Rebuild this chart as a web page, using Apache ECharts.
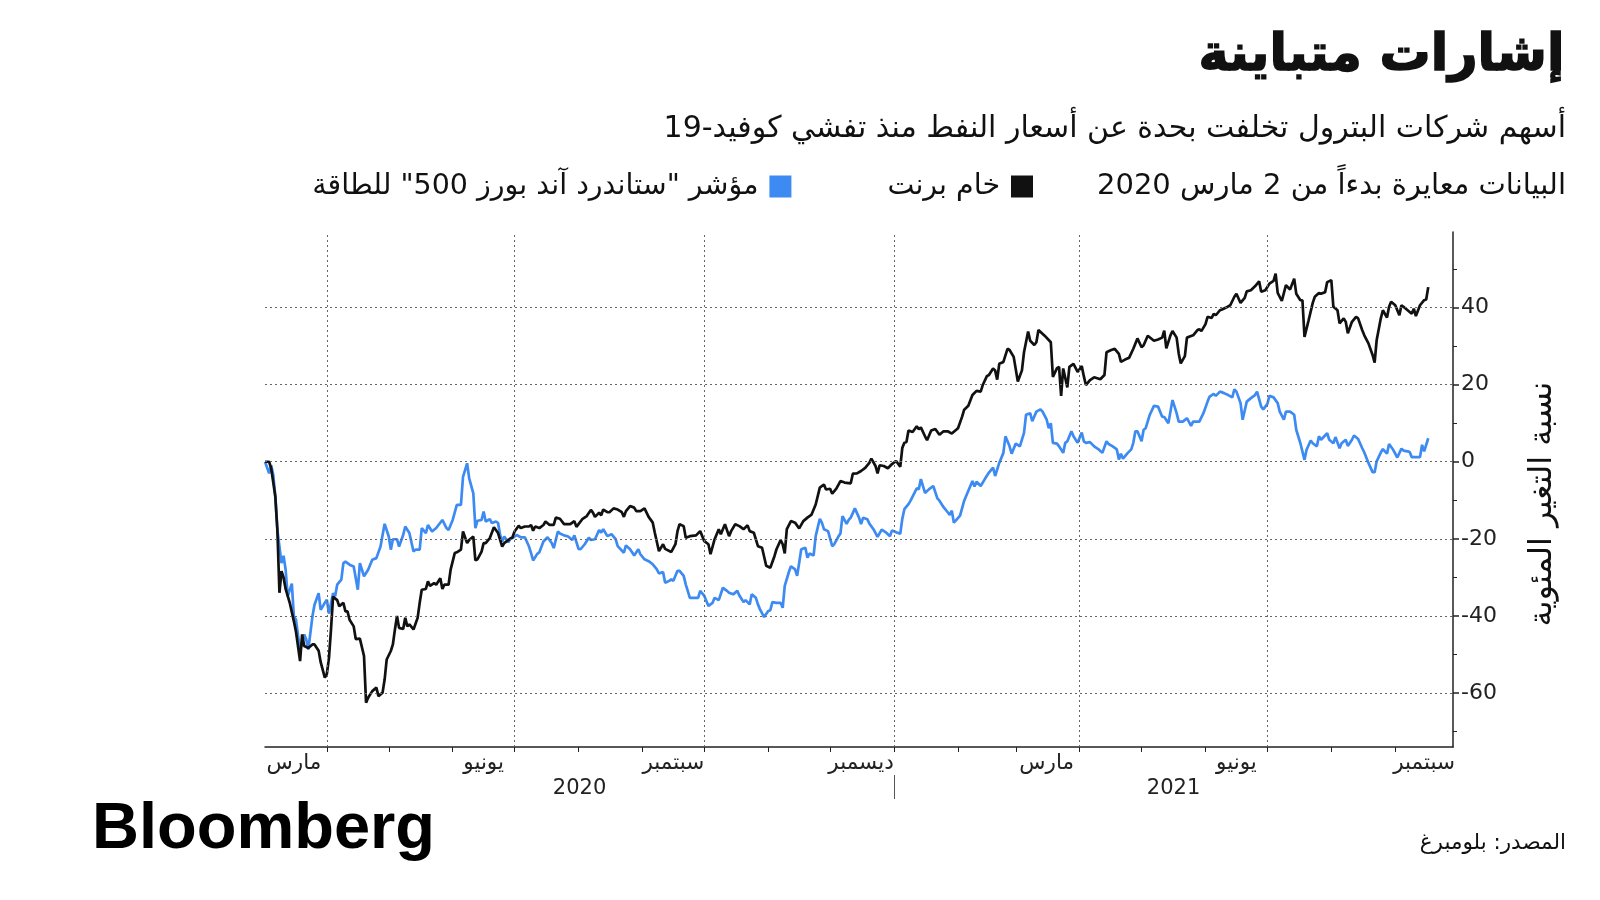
<!DOCTYPE html>
<html>
<head>
<meta charset="utf-8">
<script src="https://cdn.jsdelivr.net/npm/echarts@6/dist/echarts.min.js"></script>
<style>
html,body{margin:0;padding:0;background:#fff;}
#chart{width:1600px;height:900px;}
</style>
</head>
<body>
<div id="chart"></div>
<script>
// ---------- DATA ----------
const startDate = '2020-03-02';           // rebasing date (day 0)
const axisStart = '2020-03-02';
const axisEnd = '2021-09-29';

const brentName = 'خام برنت';
const energyName = 'مؤشر "ستاندرد آند بورز 500" للطاقة';

// Brent crude: days since 2 March 2020, % change
const brentDays = [
  0,2,3,5,6,7,8,9,10,12, 14,15,17,18,19,21,23,24,26,27, 29,30,31,32,33,35,36,38,39,40,
  41,43,44,46,48,49,50,52,54,55, 57,58,59,61,62,63,64,65,67,68, 69,70,72,74,75,76,78,79,80,82,
  83,85,86,87,89,90,92,93,95,96, 98,99,101,102,103,105,106,107,109,111, 113,115,116,118,120,121,123,124,126,128,
  129,130,131,133,135,136,138,140,141,
  143,145,148,150,151,154,156,158,159,160, 162,163,164,166,167,169,171,173,174,175, 177,179,180,182,184,186,188,189,191,193,
  194,197,199,200,201,203,204,206,209,211, 213,215,216,218,220,221,223,225,226,228, 230,232,234,235,237,239,241,243,245,247,
  248,250,251,252,253,255,257,259,261,263, 265,267,269,271,272,274,275,277,279,281, 284,285,287,289,291,293,294,296,
  297,298,300,302,304,306,308,309,310,311, 312,314,316,317,318,320,321,323,325,327, 329,331,333,336,338,339,341,343,345,347,
  348,350,351,353,354,355,356,358,360,361, 363,365,367,368,370,371,373,374,375,378, 381,382,384,385,386,387,389,390,392,394,
  396,397,398,400,402,405,407,408,410,412, 414,415,417,419,421,423,425,426,428,
  431,433,435,436,437,439,440,442,443,444, 446,447,449,450,452,453,454,456,457,459, 460,461,463,464,466,468,470,471,473,475,
  476,478,480,482,483,485,487,489,490,491, 493,495,497,499,500,502,503,504,506,508, 509,511,512,514,515,517,518,520,521,523,
  524,525,527,529,530,532,533,535,537,538, 539,541,542,544,545,546,548,550,551,552, 554,556,557,558,560,562,563,564
];
const brentValues = [
  0,0,-1.7,-9,-17.7,-34,-28.4,-30,-33,-36.6, -41.4,-44,-51.7,-44.8,-47.8,-48.3,-47.4,-47.4,-49,-52, -56,-55,-51,-43.5,-35,-35.9,-37.5,-36.6,-38.8,-38.8,
  -41,-42.7,-46,-45.9,-50.4,-62.5,-61.2,-59.5,-58.6,-60.8, -59.9,-56.5,-51.3,-49.1,-47.4,-43.5,-40,-43.1,-43.4,-40.5, -42.7,-42.2,-43.5,-40.5,-36.6,-33.2,-33,-31,-32.2,-31.5,
  -31.9,-30.2,-33,-31.9,-31.9,-28,-23.7,-23.5,-22.8,-18.1, -21.1,-20.3,-19.4,-25.6,-25.3,-23.3,-21.1,-21.1,-19.8,-17, -18.5,-22,-21.1,-20.3,-19.6,-18.1,-16.6,-17.2,-16.8,-16.8,
  -16.4,-17.9,-16.8,-17.2,-16.4,-15.5,-16.4,-16.4,-14.5,
  -14.8,-16.2,-16.2,-15.4,-16.9,-14.8,-14.1,-12.5,-13.2,-14.3, -13.2,-13.9,-12.4,-13.1,-13.1,-12.1,-12.4,-13.1,-14.3,-12.8, -11.5,-11.9,-12.8,-12.8,-12.1,-14.3,-15.8,-18.4,-23.2,-21.4,
  -22.6,-23.4,-21.4,-18,-16.2,-16.7,-19.7,-19.3,-19.1,-18, -20.6,-21.4,-24,-20.1,-17.5,-18.8,-16.2,-19.3,-18,-16.2, -16.7,-17.5,-16.5,-18,-18.4,-21.9,-22.3,-27,-27.5,-24.5,
  -22.7,-20.3,-21.4,-23.8,-17.5,-15.4,-15.8,-17.3,-15.4,-14.5, -13.7,-11.1,-6.7,-5.9,-7.2,-7,-8.3,-7,-5,-5.4, -5.6,-3.1,-3,-2.4,-1.6,-0.3,0.8,-1.1,
  -3,-0.9,-1.1,-1.7,-0.6,0.2,-1.3,3.6,4.9,5.1, 8.1,7.7,9.2,8.4,8.9,6.6,5.6,8.1,8.5,7, 7.9,7.9,7.3,8.7,11.7,13.5,14.5,17.3,18.4,18.2,
  19.9,22.2,22.5,24.2,23.7,21.3,25.4,25.9,29.3,29, 27.2,20.8,23.7,28.4,33.8,31.4,30.3,31,34.2,32.7, 31,22,24.3,24.6,17.1,24.2,19.3,24.6,25.4,23.3,
  24.8,22.2,19.9,21.2,21.9,21.4,22.5,28.4,28.9,29.3, 28,25.9,26.5,27,29.3,32,29.7,30.2,32.7,
  31.4,31.7,32.2,34,29.4,32.8,33.9,32.2,28.1,25.5, 27.4,32.2,32.6,32.8,34.1,34.4,33.9,35.7,37.6,37.3, 38.4,38,39.3,39.5,40,40.6,42.8,43.6,41.2,42.5,
  44.2,44.5,45.5,46.8,44.1,44.5,46.2,46.9,48.8,43.8, 41.7,45.8,44.7,47.5,43.6,41.9,41.9,32.4,36.7,41.2, 42.8,43.8,43.6,44,46.6,47.1,40.2,39.3,35.9,37.2,
  36.3,33.3,36.3,37.6,37.2,34.1,32.8,30.7,27.7,25.7, 31.6,37.2,39.3,37.4,40.2,41.5,40.6,38,40.6,40.2, 39.3,38.4,39.7,37.8,40.6,41.9,42.1,45.3
];

// S&P 500 Energy index: days since 2 March 2020, % change
const energyDays = [
  0,2,3,4,5,6,8,9,10,11, 13,14,15,17,19,20,21,23,24,26, 27,29,30,31,33,34,35,37,38,39,
  41,43,45,46,48,50,52,54,56,58, 60,61,62,64,65,67,68,70,72,73, 75,76,78,79,81,83,86,88,89,91,
  93,95,96,98,99,101,102,103,105,106, 107,109,110,112,113,114,115,116,118,119, 120,122,124,126,128,129,130,132,133,135,
  137,139,140,142,
  143,145,147,149,150,152,153,155,157,158, 160,162,163,164,166,168,170,171,174,175, 177,179,181,182,184,186,188,190,191,193,
  194,196,197,198,200,201,203,204,206,208, 210,211,213,215,217,218,220,222,224,225, 227,229,230,232,233,235,236,238,239,240,
  242,244,245,246,248,250,251,252,254,255, 257,258,259,260,262,263,264,266,267,269, 270,271,273,275,276,278,279,280,282,283,
  284,286,288,289,290,292,293,295,
  297,299,301,303,304,306,308,309,310,312, 313,316,317,318,320,322,324,326,327,329, 331,332,333,334,335,337,339,340,343,344,
  345,347,349,351,353,354,356,358,359,361, 362,364,366,368,369,371,372,374,376,377, 379,380,381,382,384,385,387,388,389,391,
  392,394,396,397,398,400,402,404,406,408, 409,411,413,414,415,416,418,420,421,422, 423,425,426,427,429,
  431,433,435,436,438,439,440,442,443,445, 447,449,450,453,455,457,458,460,461,463, 465,467,469,470,471,473,474,476,478,480,
  481,483,484,486,487,489,491,492,494,495, 497,499,500,502,504,505,507,508,510,511, 512,515,516,518,519,521,522,524,525,527,
  528,530,532,533,535,537,538,539,541,542, 544,545,547,549,551,552,554,555,556,558, 560,561,562,564
];
const energyValues = [
  0,-3,-0.9,-3.4,-9,-17.7,-26.3,-24.4,-28,-34.9, -31.6,-40.1,-40.9,-49.1,-44.8,-46.1,-48.7,-40.1,-37.1,-34.1, -38.4,-36.6,-35.8,-39.4,-34.1,-34.9,-31.9,-30.6,-26.3,-25.9,
  -26.7,-27.2,-33.2,-26.3,-29.7,-28,-25.4,-25,-22,-16.1, -19.4,-22.8,-20.1,-20.1,-22,-19,-16.8,-18.5,-23.3,-22.8, -22.8,-17.2,-18.5,-16.4,-18.1,-17.2,-15.1,-17.2,-17.7,-15.1,
  -11.2,-11.2,-3.9,-0.4,-4.3,-8.2,-17.2,-15.3,-15.1,-12.9, -15.5,-14.9,-15.9,-15.5,-15.9,-19,-20.7,-19.4,-20.9,-19.8, -19.8,-19,-19.6,-19.6,-22,-23.7,-25.6,-23.9,-23.5,-20.7,
  -19.6,-21.1,-22.4,-18.1,
  -18.6,-19.1,-19.4,-20.3,-19.1,-22.6,-22.7,-21.4,-19.7,-20.3, -20.1,-17.7,-18.4,-17.5,-19.3,-18.8,-20.1,-21.9,-23.6,-21.7, -22.7,-24.3,-22.7,-24,-25.3,-25.8,-26.6,-27.9,-29,-28.6,
  -31.4,-30.9,-30.5,-30.9,-28.3,-28.3,-29.6,-31.8,-35.3,-35.3, -35.3,-33.5,-34.8,-37.4,-36.6,-35.3,-35.9,-32.7,-33.5,-34, -34.4,-33.5,-34.7,-36.4,-35.9,-37,-34.4,-35.3,-37,-38.3,
  -40.3,-38.7,-38.5,-36.4,-36.6,-36.6,-37.9,-32.2,-28.6,-27.1, -27.9,-29.6,-26.2,-22.7,-22.3,-24.9,-23.8,-24.3,-19.3,-14.8, -15.8,-17.5,-18,-21.9,-21.4,-19.4,-18.6,-14.1,-16.1,-15.1,
  -14.5,-12.1,-14.5,-16.2,-14.5,-14.9,-16,-17.5,
  -19.5,-17.6,-18.3,-19.3,-17.8,-18.3,-18.7,-14.8,-12.3,-11, -10.1,-6.9,-7.1,-4.5,-8.1,-7.1,-6.3,-9.5,-10.1,-11.8, -13.1,-13.8,-12.7,-15.8,-15.2,-14,-10.1,-8.8,-5,-6.4,
  -5.2,-6.3,-4.5,-2.8,-1.5,-3.7,-0.3,2.3,6.6,4, 2.1,4.7,4,7.5,12.2,12.6,10.5,13,13.6,13, 10.9,8.7,10,4.9,4.7,4,2.3,4.9,5.3,7.9,
  6.6,4.9,7.6,5.3,4.9,5.1,4,3.3,2.3,5.3, 4.6,4,3.2,0.6,2.1,0.8,2.1,3.2,4.9,7.9, 7.9,5.3,8.3,8.7,12.2,
  14.5,14.3,11.7,11.6,10,13,16,12.6,10.4,10.4, 11.3,9.3,10.4,10.4,12.6,15.6,16.9,17.6,17.1,18.2, 17.8,17.3,16.7,18.8,18.2,15.2,10.9,15.6,16.5,17.3,
  18.2,14.3,13.6,15,17.1,16.7,15.2,13,10.9,13, 13,12.2,8.3,4.8,0.5,3.1,5.5,4.8,4,6.6, 5.7,7.4,5.7,4.8,6.4,3.5,4.8,5.7,4.1,5.7,
  6.8,5.9,3.5,2.4,-0.3,-2.7,-2.7,0.1,2.4,3.3, 2.1,4.6,3.1,1.1,3.4,2.9,2.7,2.5,1.2,1.2, 1.2,4.4,2.7,6.1
];

// axis ticks / labels
const monthTickDates = ['2020-04-01','2020-05-01','2020-06-01','2020-07-01','2020-08-01','2020-09-01','2020-10-01',
  '2020-11-01','2020-12-01','2021-01-01','2021-02-01','2021-03-01','2021-04-01','2021-05-01','2021-06-01',
  '2021-07-01','2021-08-01','2021-09-01'];
const quarterLineDates = ['2020-04-01','2020-07-01','2020-10-01','2021-01-01','2021-04-01','2021-07-01'];
const monthLabelDates = ['2020-03-16','2020-06-16','2020-09-16','2020-12-16','2021-03-16','2021-06-16','2021-09-15'];
const monthLabelNames = ['مارس','يونيو','سبتمبر','ديسمبر','مارس','يونيو','سبتمبر'];
const yearNames = ['2020','2021'];
const yearBoundary = '2021-01-01';
const yLabelValues = [-60,-40,-20,0,20,40];
const yMinorValues = [-70,-50,-30,-10,10,30,50];
const yMin = -74, yMax = 59.6;

// texts
const titleText = 'إشارات متباينة';
const subtitleText = 'أسهم شركات البترول تخلفت بحدة عن أسعار النفط منذ تفشي كوفيد-19';
const noteText = 'البيانات معايرة بدءاً من 2 مارس 2020';
const yAxisTitle = 'نسبة التغير المئوية';
const sourceText = 'المصدر: بلومبرغ';
const logoText = 'Bloomberg';

// ---------- BUILD ----------
const DAY = 86400000;
const t0 = Date.parse(startDate);
const tMin = Date.parse(axisStart), tMax = Date.parse(axisEnd);
const toSeries = (days, vals) => days.map((d, i) => [t0 + d * DAY, vals[i]]);
const monthTickTs = monthTickDates.map(s => Date.parse(s));
const monthLabelTs = monthLabelDates.map(s => Date.parse(s));
const tBoundary = Date.parse(yearBoundary);
const yearMidTs = [(tMin + tBoundary) / 2, (tBoundary + tMax) / 2];
const nearestLabel = (v, list, names) => {
  let best = 0, bd = Infinity;
  list.forEach((t, i) => { const d = Math.abs(t - v); if (d < bd) { bd = d; best = i; } });
  return bd < 3 * DAY ? names[best] : '';
};

const AR = 'DejaVu Sans';
const axisColor = '#222';
const gridStyle = { type: [2, 3], color: '#666', width: 1 };

const chart = echarts.init(document.getElementById('chart'), null, { renderer: 'canvas' });
chart.setOption({
  animation: false,
  backgroundColor: '#fff',
  title: [
    { text: titleText, right: 34, top: 31, padding: 0,
      textStyle: { fontSize: 51, fontWeight: 'bold', fontFamily: AR, color: '#111',
        textBorderColor: '#111', textBorderWidth: 1.6 } },
    { text: subtitleText, right: 34, top: 114, padding: 0,
      textStyle: { fontSize: 30, fontWeight: 'normal', fontFamily: AR, color: '#111' } },
    { text: noteText, right: 34, top: 172, padding: 0,
      textStyle: { fontSize: 29, fontWeight: 'normal', fontFamily: AR, color: '#111' } },
    { text: sourceText, right: 34, top: 832, padding: 0,
      textStyle: { fontSize: 21.5, fontWeight: 'normal', fontFamily: AR, color: '#111' } },
    { text: logoText, left: 92, top: 798, padding: 0,
      textStyle: { fontSize: 65, fontWeight: 'bold', fontFamily: 'Liberation Sans', color: '#000' } }
  ],
  legend: {
    data: [energyName, brentName],
    right: 567, top: 172, padding: 0,
    align: 'right', icon: 'rect', itemWidth: 22, itemHeight: 22, itemGap: 96,
    selectedMode: false,
    textStyle: { fontSize: 28.5, fontFamily: AR, color: '#111', padding: [0, 6, 0, 0] }
  },
  grid: { left: 265, right: 147, top: 232, bottom: 153, containLabel: false },
  xAxis: [
    { type: 'value', min: tMin, max: tMax, position: 'bottom', scale: true,
      axisLine: { show: true, onZero: false, lineStyle: { color: axisColor, width: 1.5 } },
      axisTick: { show: true, customValues: monthTickTs, length: 5, lineStyle: { color: axisColor, width: 1 } },
      axisLabel: { show: true, customValues: monthLabelTs, margin: 5, fontSize: 21.5, fontFamily: AR, color: axisColor,
        hideOverlap: false, formatter: v => nearestLabel(v, monthLabelTs, monthLabelNames) },
      splitLine: { show: false }
    },
    { type: 'value', min: tMin, max: tMax, position: 'bottom', offset: 28, scale: true,
      axisLine: { show: false, onZero: false },
      axisTick: { show: true, customValues: [tBoundary], length: 24, lineStyle: { color: '#555', width: 1 } },
      axisLabel: { show: true, customValues: yearMidTs, margin: 3, fontSize: 21, fontFamily: AR, color: axisColor,
        hideOverlap: false, formatter: v => nearestLabel(v, yearMidTs, yearNames) },
      splitLine: { show: false }
    }
  ],
  yAxis: [
    { type: 'value', position: 'right', min: yMin, max: yMax,
      axisLine: { show: true, onZero: false, lineStyle: { color: axisColor, width: 1.5 } },
      axisTick: { show: true, customValues: yLabelValues, length: 6, lineStyle: { color: axisColor, width: 1.5 } },
      axisLabel: { show: true, customValues: yLabelValues, margin: 8, fontSize: 22, fontFamily: AR, color: axisColor,
        formatter: v => String(v) },
      splitLine: { show: false }
    },
    { type: 'value', position: 'right', min: yMin, max: yMax,
      axisLine: { show: false, onZero: false },
      axisTick: { show: true, customValues: yMinorValues, length: 4, lineStyle: { color: axisColor, width: 1 } },
      axisLabel: { show: false },
      splitLine: { show: false }
    }
  ],
  graphic: [
    { type: 'text', x: 1543, y: 504, rotation: Math.PI / 2,
      style: { text: yAxisTitle, fontSize: 32, fontFamily: AR, fill: '#111', align: 'center', verticalAlign: 'middle' } }
  ],
  series: [
    { name: 'grid', type: 'line', data: [], z: 1, silent: true,
      markLine: { silent: true, symbol: ['none', 'none'], label: { show: false },
        lineStyle: gridStyle, emphasis: { disabled: true },
        data: [
          ...quarterLineDates.map(s => ({ xAxis: Date.parse(s) })),
          ...yLabelValues.map(v => ({ yAxis: v }))
        ] } },
    { name: energyName, type: 'line', data: toSeries(energyDays, energyValues), z: 3,
      showSymbol: false, symbol: 'none', color: '#3d8bf2',
      lineStyle: { width: 2.7, color: '#3d8bf2' } },
    { name: brentName, type: 'line', data: toSeries(brentDays, brentValues), z: 4,
      showSymbol: false, symbol: 'none', color: '#111',
      lineStyle: { width: 2.7, color: '#111' } }
  ]
});
</script>
</body>
</html>
